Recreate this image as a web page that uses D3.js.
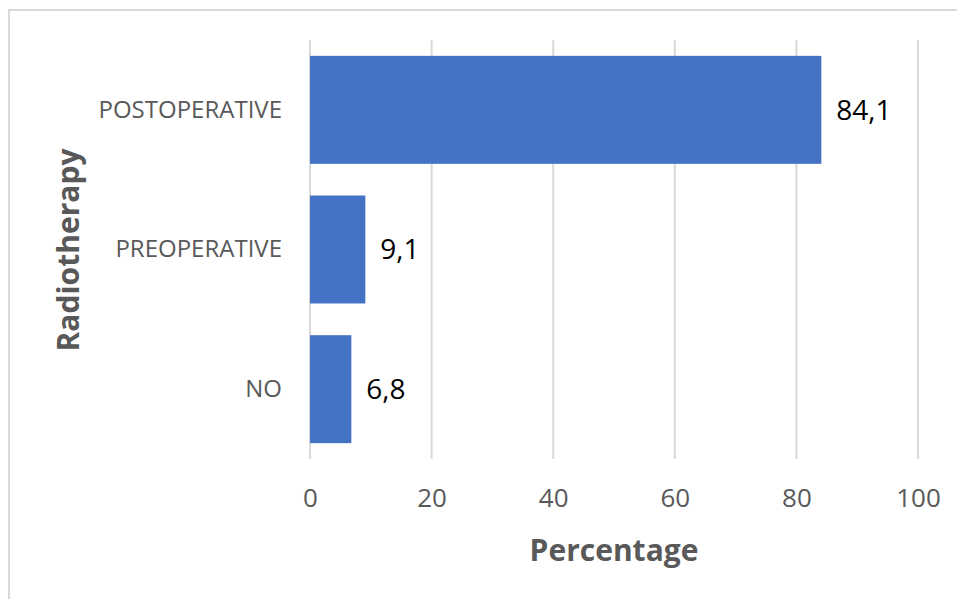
<!DOCTYPE html>
<meta charset="utf-8">
<script src="https://d3js.org/d3.v7.min.js"></script>
<style>
  body { margin: 0; background: #fff; }
  text { font-family: "Open Sans", sans-serif; }
</style>
<div id="my_dataviz"></div>
<script>

// data
var categories = ["POSTOPERATIVE", "PREOPERATIVE", "NO"]
var values = [84.1, 9.1, 6.8]
var ticks = [0, 20, 40, 60, 80, 100]

var width = 957
var height = 599
var margin = {top: 40, right: 39, bottom: 140, left: 310}

var svg = d3.select("#my_dataviz")
  .append("svg")
    .attr("width", width)
    .attr("height", height)

// chart border (runs off the right/bottom of the picture)
svg.append("rect")
  .attr("x", 9).attr("y", 10)
  .attr("width", width).attr("height", height)
  .attr("fill", "none")
  .attr("stroke", "#d9d9d9")
  .attr("stroke-width", 2)

var x = d3.scaleLinear()
  .domain([0, 100])
  .range([margin.left, width - margin.right])

var y = d3.scaleBand()
  .domain(categories)
  .range([margin.top, height - margin.bottom])
  .paddingInner(0.227)
  .paddingOuter(0.1135)

// gridlines
svg.append("g")
  .selectAll("line")
  .data(ticks)
  .enter()
  .append("line")
    .attr("x1", function(d){ return x(d) })
    .attr("x2", function(d){ return x(d) })
    .attr("y1", margin.top)
    .attr("y2", height - margin.bottom)
    .attr("stroke", "#d9d9d9")
    .attr("stroke-width", 2)

// x tick labels
var xAxis = svg.append("g")
  .attr("transform", "translate(0," + (height - margin.bottom) + ")")
  .call(d3.axisBottom(x).tickValues(ticks).tickSize(0).tickPadding(30))
xAxis.select(".domain").remove()
xAxis.selectAll("text")
  .style("font-size", "26px")
  .style("font-family", "'Open Sans', sans-serif")
  .attr("fill", "#595959")

// y category labels
var yAxis = svg.append("g")
  .attr("transform", "translate(" + margin.left + ",0)")
  .call(d3.axisLeft(y).tickSize(0).tickPadding(28))
yAxis.select(".domain").remove()
yAxis.selectAll("text")
  .style("font-size", "24px")
  .style("font-family", "'Open Sans', sans-serif")
  .attr("fill", "#595959")

// bars
svg.append("g")
  .selectAll("rect")
  .data(values)
  .enter()
  .append("rect")
    .attr("x", x(0))
    .attr("y", function(d, i){ return y(categories[i]) })
    .attr("width", function(d){ return x(d) - x(0) })
    .attr("height", y.bandwidth())
    .attr("fill", "#4472c4")

// value labels
svg.append("g")
  .selectAll("text")
  .data(values)
  .enter()
  .append("text")
    .attr("x", function(d){ return x(d) + 15 })
    .attr("y", function(d, i){ return y(categories[i]) + y.bandwidth() / 2 })
    .attr("dy", "0.35em")
    .style("font-size", "28px")
    .attr("fill", "#000")
    .text(function(d){ return d.toFixed(1).replace(".", ",") })

// axis titles
svg.append("text")
  .attr("x", (x(0) + x(100)) / 2)
  .attr("y", 561)
  .attr("text-anchor", "middle")
  .style("font-size", "30px")
  .style("font-weight", "bold")
  .attr("fill", "#595959")
  .text("Percentage")

svg.append("text")
  .attr("transform", "translate(79," + 250 + ") rotate(-90)")
  .attr("text-anchor", "middle")
  .style("font-size", "30px")
  .style("font-weight", "bold")
  .attr("fill", "#595959")
  .text("Radiotherapy")

</script>
